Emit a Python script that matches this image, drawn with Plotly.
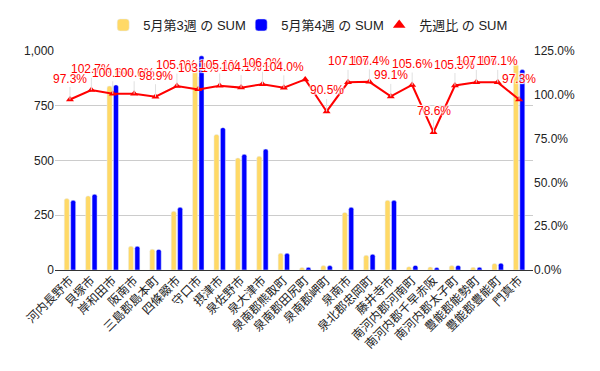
import plotly.graph_objects as go

categories = ["河内長野市", "貝塚市", "岸和田市", "阪南市", "三島郡島本町", "四條畷市", "守口市",
              "摂津市", "泉佐野市", "泉大津市", "泉南郡熊取町", "泉南郡田尻町", "泉南郡岬町", "泉南市",
              "泉北郡忠岡町", "藤井寺市", "南河内郡河南町", "南河内郡千早赤阪", "南河内郡太子町",
              "豊能郡能勢町", "豊能郡豊能町", "門真市"]
week3 = [326, 338, 840, 108, 95, 268, 949, 619, 511, 519, 76, 11, 20, 263, 67, 318, 15, 14, 20, 12, 30, 940]
week4 = [318, 346, 845, 108, 94, 286, 978, 650, 528, 552, 76, 12, 20, 286, 72, 318, 21, 11, 21, 13, 31, 915]
ratio = [97.3, 102.7, 100.6, 100.6, 98.9, 105.0, 103.1, 105.1, 104.1, 106.0, 104.0, 108.8, 90.5,
         107.1, 107.4, 99.1, 105.6, 78.6, 105.3, 107.1, 107.1, 97.3]
hidden_labels = [11]
left_ticks = [0, 250, 500, 750, 1000]
right_ticks = [0, 25, 50, 75, 100, 125]

YELLOW = "#FFD966"
BLUE = "#0000FF"
RED = "#FF0000"
FONT = "Liberation Sans, Arial, Noto Sans CJK JP, sans-serif"

fig = go.Figure()
fig.add_trace(go.Bar(x=categories, y=week3, name="5月第3週 の SUM", marker=dict(color=YELLOW, cornerradius=2)))
fig.add_trace(go.Bar(x=categories, y=week4, name="5月第4週 の SUM", marker=dict(color=BLUE, cornerradius=2)))
fig.add_trace(go.Scatter(x=categories, y=ratio, name="先週比 の SUM", yaxis="y2", mode="lines+markers",
                         line=dict(color=RED, width=2),
                         marker=dict(symbol="triangle-up", size=7, color=RED), showlegend=False))
fig.add_trace(go.Scatter(x=[None], y=[None], name="先週比 の SUM", yaxis="y2", mode="markers",
                         marker=dict(symbol="triangle-up", size=11, color=RED)))

for i, (c, r) in enumerate(zip(categories, ratio)):
    if i in hidden_labels:
        continue
    fig.add_annotation(x=c, y=r, xref="x", yref="y2", text=f"{r:.1f}%",
                       showarrow=True, arrowhead=0, arrowwidth=1, arrowcolor="#e0e0e0",
                       ax=0, ay=-21, standoff=0,
                       font=dict(family=FONT, size=12, color=RED,
                                 shadow="1px 1px 1px #fff, -1px -1px 1px #fff, 1px -1px 1px #fff, -1px 1px 1px #fff"))

fig.update_layout(
    width=600, height=371,
    margin=dict(l=55, r=67, t=51, b=101),
    paper_bgcolor="white", plot_bgcolor="white",
    font=dict(family=FONT, size=12, color="#222"),
    barmode="group", bargap=0.40, bargroupgap=0.22,
    legend=dict(orientation="h", xref="container", yref="container", x=0.517, y=1 - 25 / 371,
                xanchor="center", yanchor="middle", font=dict(size=13, color="#222"),
                itemwidth=30, tracegroupgap=0, entrywidth=93, entrywidthmode="pixels"),
    xaxis=dict(range=[-0.70, 21.65], tickangle=-45, showgrid=False, ticks="", automargin=False,
               tickfont=dict(size=12, color="#222")),
    yaxis=dict(range=[0, 1000], tickvals=left_ticks, ticktext=[f"{v:,}" for v in left_ticks],
               gridcolor="#cccccc", zeroline=True, zerolinecolor="#333", zerolinewidth=1,
               automargin=False, ticks="", tickfont=dict(size=12, color="#222")),
    yaxis2=dict(range=[0, 125], tickvals=right_ticks, ticktext=[f"{v:.1f}%" for v in right_ticks],
                overlaying="y", side="right", showgrid=False, zeroline=False, automargin=False,
                ticks="", tickfont=dict(size=12, color="#222")),
)

fig.write_html("out.html", config={"displayModeBar": False},
               post_script="document.body.style.margin='0';document.body.style.overflow='hidden';")
